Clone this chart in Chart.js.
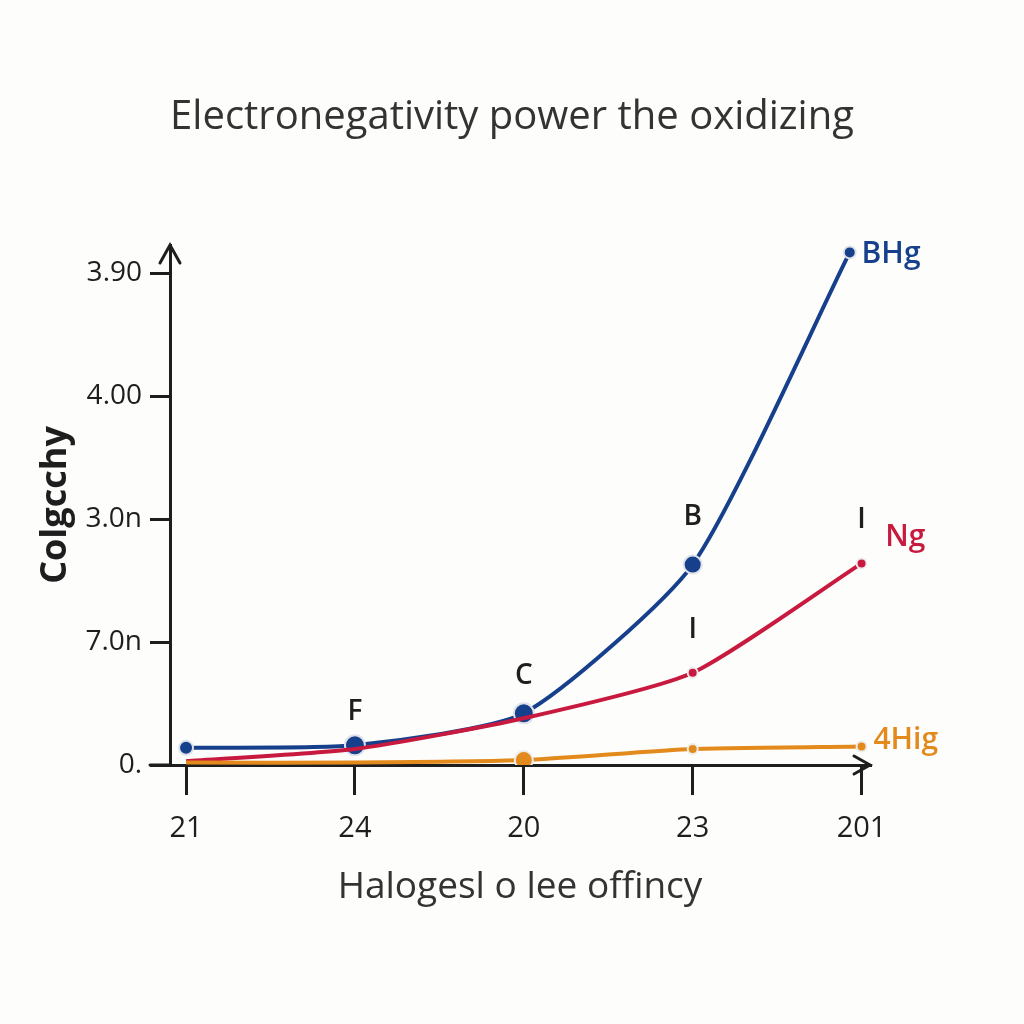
<!DOCTYPE html>
<html lang="en">
<head>
  <meta charset="UTF-8" />
  <title>Electronegativity chart</title>
  <script src="https://cdn.jsdelivr.net/npm/chart.js"></script>
  <style>
    body { margin: 0; background: #fdfdfb; }
    #wrap { width: 1024px; height: 1024px; }
  </style>
</head>
<body>
  <div id="wrap"><canvas id="chart"></canvas></div>

  <script>
    const chartTitle = 'Electronegativity power the oxidizing';

    // tick labels (as printed on the picture)
    const xTickLabels = ['21', '24', '20', '23', '201'];
    const yTickLabels = ['0.', '7.0n', '3.0n', '4.00', '3.90'];

    // series, x is the category index
    const blueX = [0, 1, 2, 3, 3.93];
    const blueY = [0.14, 0.16, 0.42, 1.63, 4.17];
    const redX = [0, 1, 2, 3, 4];
    const redY = [0.03, 0.13, 0.38, 0.75, 1.64];
    const orangeX = [0, 1, 2, 3, 4];
    const orangeY = [0.02, 0.02, 0.04, 0.13, 0.15];

    // text written next to the lines
    const noteText = ['F', 'C', 'B', 'I', 'I', 'BHg', 'Ng', '4Hig'];
    const noteX = [1, 2, 3, 3, 4, 4.0, 4.14, 4.07];
    const noteY = [0.43, 0.72, 2.02, 1.10, 1.99, 4.15, 1.85, 0.2];

    const FONT = "'Open Sans', 'DejaVu Sans', sans-serif";
    const BLUE = '#17408c';
    const RED = '#c8193f';
    const ORANGE = '#e38a1c';
    const INK = '#1e1e1e';
    const noteColor = [INK, INK, INK, INK, INK, BLUE, RED, ORANGE];

    const toPoints = (xs, ys) => xs.map((x, i) => ({ x: x, y: ys[i] }));

    // title, arrows on the axes + the free text
    const sketchPlugin = {
      id: 'sketch',
      afterDatasetsDraw(chart) {
        const { ctx, chartArea: a, scales, width } = chart;
        ctx.save();

        ctx.fillStyle = '#333';
        ctx.font = '500 40px ' + FONT;
        ctx.textAlign = 'center';
        ctx.textBaseline = 'middle';
        ctx.fillText(chartTitle, width / 2, 118);

        ctx.strokeStyle = INK;
        ctx.lineWidth = 3;
        ctx.lineCap = 'round';
        ctx.beginPath();
        // x axis sticks out to the left
        ctx.moveTo(a.left - 20, a.bottom);
        ctx.lineTo(a.left, a.bottom);
        // y arrow
        ctx.moveTo(a.left - 10, a.top + 18);
        ctx.lineTo(a.left, a.top);
        ctx.lineTo(a.left + 10, a.top + 18);
        // x arrow
        ctx.moveTo(a.right - 16, a.bottom - 9);
        ctx.lineTo(a.right, a.bottom);
        ctx.lineTo(a.right - 16, a.bottom + 9);
        ctx.stroke();

        noteText.forEach((t, i) => {
          const px = scales.x.getPixelForValue(noteX[i]);
          const py = scales.y.getPixelForValue(noteY[i]);
          const colored = i >= 5;
          ctx.font = (colored ? '600 30px ' : '600 28px ') + FONT;
          ctx.fillStyle = noteColor[i];
          ctx.textAlign = colored ? 'left' : 'center';
          ctx.fillText(t, px, py);
        });
        ctx.restore();
      }
    };

    new Chart(document.getElementById('chart'), {
      type: 'line',
      data: {
        datasets: [
          {
            label: 'orange',
            data: toPoints(orangeX, orangeY),
            borderColor: ORANGE,
            backgroundColor: ORANGE,
            borderWidth: 4,
            pointRadius: [0, 0, 9, 5, 5],
            pointBorderColor: '#ececec',
            pointBorderWidth: 2,
            tension: 0.2
          },
          {
            label: 'red',
            data: toPoints(redX, redY),
            borderColor: RED,
            backgroundColor: RED,
            borderWidth: 4,
            pointRadius: [0, 0, 0, 5, 5],
            pointBorderColor: '#ececec',
            pointBorderWidth: 2,
            tension: 0.2
          },
          {
            label: 'blue',
            data: toPoints(blueX, blueY),
            borderColor: BLUE,
            backgroundColor: BLUE,
            borderWidth: 4,
            pointRadius: [7, 10, 10, 9, 6],
            pointBorderColor: '#dfe2ea',
            pointBorderWidth: 2,
            tension: 0.2
          }
        ]
      },
      options: {
        responsive: true,
        maintainAspectRatio: false,
        animation: false,
        layout: { padding: { left: 0, right: 154, top: 245, bottom: 100 } },
        plugins: {
          legend: { display: false },
          tooltip: { enabled: false },
          title: { display: false }
        },
        scales: {
          x: {
            type: 'linear',
            min: -0.095,
            max: 4.05,
            afterBuildTicks: s => { s.ticks = redX.map(v => ({ value: v })); },
            afterFit: s => { s.height = 159; },
            border: { color: INK, width: 3 },
            grid: { drawOnChartArea: false, color: INK, lineWidth: 3, tickLength: 30 },
            ticks: {
              color: INK,
              padding: 16,
              font: { family: FONT, size: 29 },
              callback: v => xTickLabels[v]
            },
            title: {
              display: true,
              text: 'Halogesl o lee offincy',
              color: '#333',
              font: { family: FONT, size: 37, weight: '500' },
              padding: { top: 0, bottom: 14 }
            }
          },
          y: {
            min: 0,
            max: 4.23,
            afterBuildTicks: s => { s.ticks = [0, 1, 2, 3, 4].map(v => ({ value: v })); },
            afterFit: s => { s.width = 170; },
            border: { color: INK, width: 3 },
            grid: { drawOnChartArea: false, color: INK, lineWidth: 3, tickLength: 20 },
            ticks: {
              color: INK,
              padding: 8,
              font: { family: FONT, size: 28 },
              callback: v => yTickLabels[v]
            },
            title: {
              display: true,
              text: 'Colgcchy',
              color: INK,
              font: { family: FONT, size: 36, weight: 'bold' },
              padding: { top: 34, bottom: 0 }
            }
          }
        }
      },
      plugins: [sketchPlugin]
    });
  </script>
</body>
</html>
